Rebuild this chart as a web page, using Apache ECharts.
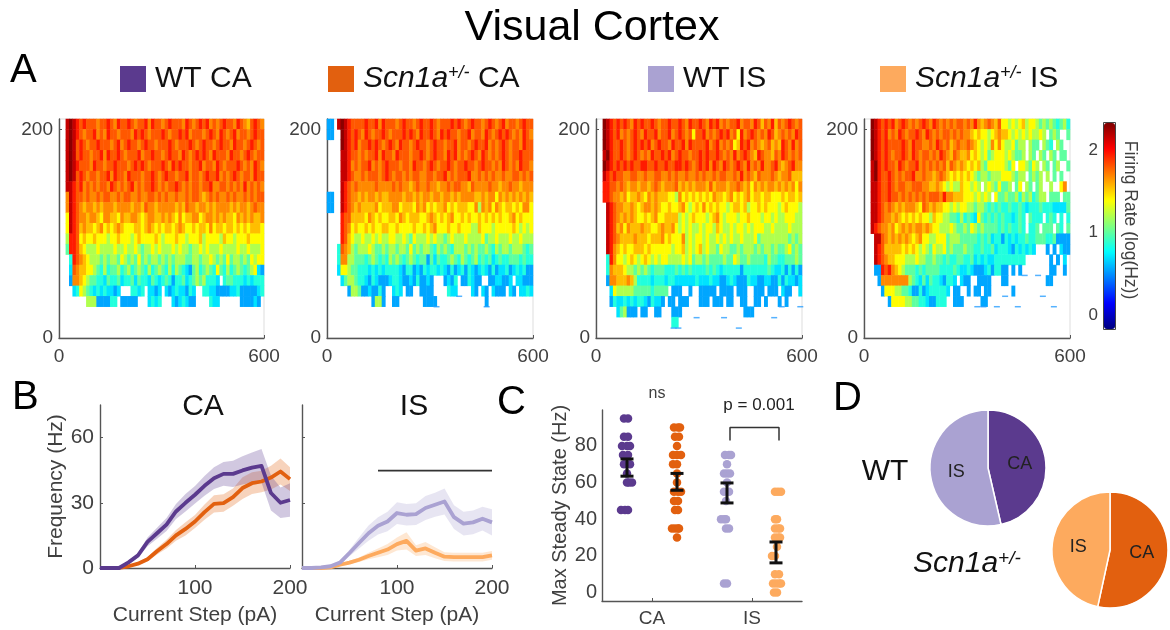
<!DOCTYPE html>
<html><head><meta charset="utf-8">
<style>html,body{margin:0;padding:0;background:#fff}#c{width:1170px;height:630px;filter:blur(0.45px)}</style>
<script src="https://cdn.jsdelivr.net/npm/echarts@6/dist/echarts.min.js"></script>
</head><body><div id="c"></div>
<script>
// --- Panel A: heatmap rows, top row (200 pA) first; one character per 10 ms-wide bin. '.' = no spikes.
const levelValues = {'1':0.55,'2':0.7,'3':0.85,'4':1.0,'5':1.2,'6':1.4,'7':1.55,'8':1.68,'9':1.8,'a':1.95,'b':2.16,'c':2.3};
const heatWtCa = [
"..bcba9a99 9899a98a99 a9899a8a99 89a9998a98 9a9a8989a9 98a9879a98",
"..bcba9899 a898a99899 98a9a98999 a9899a9a89 9989a98a98 9a89989a99",
"..bcb9a989 9a99989a89 a9989a9989 99a98999a9 89a9989a99 8a9989a989",
"..bcb9a998 99a8a99a98 999a899a99 89a998a989 a9a98a9998 a9989a9899",
"..bcba9998 a99899a999 89a9a98999 a98a9a9989 9a8998a989 99a9898a98",
"..bcb9a989 9899a8a998 a999899a98 9a99899a89 989a99a898 9a98998a99",
"..bba9a898 98998a9898 9a89899a98 9899a98989 9899a88998 9898a89898",
"..8ba99898 8989988989 9889889989 8988988989 9878989889 8988989899",
"..8ba98788 7878887888 8788798878 8888787988 7887878888 7878878988",
"..6ba98878 8768877687 7887678877 8787686778 8678878787 7687878778",
"..6ba97877 6786767876 6677678767 6776787667 6776867767 7676767776",
"..5aa96766 7666566766 6567666676 5666766566 6756666576 6566676666",
"..4aa97655 5655556556 5565455656 5556565545 5656555655 5565565556",
"...3a98765 5545455465 4546454554 5454555445 5455654546 4554546566",
"...2987766 5435344534 5345435345 4353543214 5345436435 3454345621",
"...1887654 4332433423 3424332432 3431334234 5453332.34 4333232333",
"....236543 23232212.. .3323.2212 .212322132 ..33221111 2231111123",
"........55 5111133.11 111...2323 ...2123211 ....322... ...111121."];
const heatScnCa = [
"11.bcba999 9a99a8a999 89a9989a99 a98999a9a9 89a9989a98 9a89989a99",
"11..cba9a9 8a9899a989 99a9a98a99 a98a9a9989 9a8998a989 a9a9898a98",
"....cba9a8 99a9a989a9 8a9989a998 9a99899a89 989a99a898 9a98998a99",
"....bba998 9899a8a998 a999899a98 9a998a9a89 89a98a9898 9a9899a999",
"....bba898 99a8989a99 98998a9989 a9899a9899 a9989a9989 8a9898a998",
"....bba988 9899989a98 9989899889 9899a89899 9a88989898 8988998989",
"....ba9898 8888988889 8988789889 8878898998 8798888988 7889887888",
"11..ba9887 8788787788 8878878788 7887887878 8887787886 8787878787",
"11..ba9878 7777867778 8677768786 7677867677 7668587868 7677676886",
"....a99777 7687676677 6876777667 8767678667 6766767676 7667867666",
"....a98676 6767667766 7666676676 7866676676 6655766656 6666765656",
"....a97655 6556565566 5565465556 5655456555 6555564556 5556556555",
"...3987545 5565445455 4554645455 4354543555 4545445435 4554555434",
"...3885544 4345434354 5434543441 4243345435 4345343423 4334443433",
"...2665443 3323232333 3213312132 3323213123 1321232131 2231232311",
"....245543 3213211123 3211213112 1...1213.1 13211..112 2112.22111",
"......1554 1121131..2 32.11..111 1....322.. ..21.21.21 11.21.2232",
".......... ...1551..1 1.......11 11........ ......1... .........."];
const heatWtIs = [
"..cba9a9a9 8a9a99a989 9a99a98a99 a98a9a8989 9a8998a979 8a7989a989",
"..cba9a898 9a98a99a89 9a89a98969 9a8989a9a8 96a89a9898 a9789898a9",
"..cba99a98 9a9a9a89a9 98a99a8a99 99a89a8989 67a9a89878 9787a98a89",
"..bca99a98 9a9898a99a 9a89a99899 a9a99a9898 a89a987a98 8798a98989",
"..cba9a9a9 a99aa99a99 a99aa9a989 a9a8a98a98 9a98a898a8 89a8789a88",
"..ba9a9988 9988988998 8989889889 8988989988 98a8987988 8987889777",
"..aa998987 8878878987 8889787878 8879788878 8987868787 8878787868",
"..aa988786 7787687877 7665867676 7676877678 6767867767 7666767767",
"...ba98877 8767887876 6766786567 6867676656 7767566767 6665676665",
"...ba98787 8766767866 7777565676 6656786566 6566766656 6565566655",
"...ba97868 7778776678 7786565655 6566576556 5665656665 5655556555",
"...ba98777 7877767778 6766685656 6565565656 5565556455 5555554545",
"...ba87676 6777676666 6656675656 7565546554 4545554545 5454456454",
"...3a86656 7656765656 6555565645 5454444544 6544544443 5443344454",
"...3877765 5454543444 3334343433 3343432333 3313333333 4322313131",
"...1887778 7533332333 2332222223 2223221123 2111322112 2113132212",
"....265555 5444443444 4.111..1.. 11111.1111 .111..111. 111.211..2",
"....132232 3233213221 .11.111... 111.111.11 ..11..11.1 ...1.1....",
"......2451 11.11..11. ..111..... .......... ...111.... ..........",
".......... .......... ..33...... .......... .......... .........."];
const heatScnIs = [
"..cba9a9a8 9a98989a98 a989898998 98a8789879 6656567566 5454543453",
"..cba9a898 a9899a98a9 8989989898 8767665678 7765656565 565.454..4",
"..cba9a999 9a98a99889 8a98978988 9876565868 6556455.54 4.543.54..",
"..cba9a989 9a98a98998 98a9879877 8676564566 6565445.54 .54.54.44.",
"..bca9a998 a9899a8989 8989798787 6767546666 6546.66546 5.54.45..4",
"..bca99a98 9899a88988 7898767676 7654554555 6665455.45 45.5.4.4..",
"..bba99a98 9988999887 7876565576 6565.56546 445.46.54. 45..5..68.",
"..bba99a99 8989898989 998a887776 6656565.64 4544535453 455.444.44",
"..bba98987 8788876987 8776656566 5545543434 3343343233 3433322224",
"..bba98878 7676767665 7665544353 4326434343 4332343.43 33.343.3.3",
"..ba988786 7878788787 6655565445 4654544443 4343343.33 4.444.43.4",
"...bb98787 8787678665 5666455544 4443434233 1323233433 4443341111",
"...ba97777 7676765654 6556454445 4433433423 3321323232 ...1.1.211",
"...ba98776 6655565544 5443433443 3423232233 3333333... ....1.1.2.",
"...11a9a87 6544434344 4433334322 3211123133 11.1.1.... ....11..1.",
"....188888 8885432424 3321332.21 1..1111... 11........ ...11.....",
".....16665 5443113123 33332.11.. 1.11.11... ...1...... ..........",
".......166 6655443321 1333..111. ....11.... .......... .........."];
const dashScnCa = [[319,30],[465,30],[385,40]];
const dashWtIs = [[226,9.5],[240,9.5],[416,9.5],[293,19.5],[373,19.5],[519,19.5],[541,30],[595,30]];
const dashScnIs = [[330,30],[348,30],[387,30],[448,30],[553,30],[411,40],[521,40],[468,60],[507,60]];
const heatTicksX = [0,600], heatTicksY = [0,200], colorTicks = [0,1,2];

// --- Panel B
const stepsPa = [0,10,20,30,40,50,60,70,80,90,100,110,120,130,140,150,160,170,180,190,200];
const meanWtCa  = [0,0,0,2.6,5.8,12,16,20,26,30,33.7,37.8,41.3,43.3,43.3,44.9,46.2,47,34.5,30,31.3];
const semWtCa   = [0,0,0,0.6,1,2,2.5,3,3.5,4,4,4.5,5,5.5,6,6.5,7,7.7,8,7,7.7];
const meanScnCa = [0,0,0,0.8,2,4,7.7,11,15,18,21.4,25.7,29.5,29.9,32.6,36.8,39,39.8,41.6,44.4,40.9];
const semScnCa  = [0,0,0,0.3,0.6,1,1.5,2,2.5,3,3,3.5,4,4,4,5,5,5,5.5,6,5.5];
const meanWtIs  = [0,0,0.3,0.8,2.5,6.9,11.5,16,19.4,21.4,25.3,24.5,24.8,27.6,29.1,30.6,23.4,20.4,21,22.7,21];
const semWtIs   = [0,0,0.1,0.4,1,1.5,2.5,3.5,4,4.5,5,5,5,5.5,5.5,6,5.5,5.5,5.5,5.5,6];
const meanScnIs = [0,0,0,0.3,1.5,2.5,3.8,5.5,7,8.5,11,12.5,8,9,7,5.2,5,5,5,5,5.8];
const semScnIs  = [0,0,0,0.2,0.5,0.8,1,1.5,2,2.5,3,4,2.5,3,2.5,2,2,2,2,2,2];
const sigBarX = [80,200], sigBarY = [44.8,44.8];
const freqTicks = [0,30,60], stepTicks = [100,200];

// --- Panel C
const dotsWtCa = [[.72,95],[.76,95],[.72,85],[.76,85],[.70,80],[.75,80],[.78,80],[.71,75],[.76,75],[.72,70],[.78,70],[.75,65],[.75,60],[.80,60],[.77,60],[.69,45],[.73,45],[.76,45]];
const dotsScnCa = [[1.22,90],[1.26,90],[1.28,90],[1.23,85],[1.27,85],[1.25,80],[1.21,75],[1.25,75],[1.29,75],[1.21,70],[1.25,70],[1.25,65],[1.25,60],[1.22,55],[1.26,55],[1.29,55],[1.22,50],[1.26,50],[1.23,45],[1.26,45],[1.20,35],[1.23,35],[1.26,35],[1.27,35],[1.25,30]];
const dotsWtIs = [[1.73,75],[1.77,75],[1.79,75],[1.75,70],[1.72,65],[1.75,65],[1.78,65],[1.75,60],[1.72,55],[1.77,55],[1.74,50],[1.69,40],[1.72,40],[1.74,40],[1.74,35],[1.77,35],[1.72,5],[1.75,5]];
const dotsScnIs = [[2.23,55],[2.26,55],[2.29,55],[2.23,40],[2.25,40],[2.23,35],[2.26,35],[2.28,35],[2.23,30],[2.26,30],[2.28,30],[2.25,25],[2.20,20],[2.23,20],[2.23,10],[2.27,10],[2.21,5],[2.24,5],[2.27,5],[2.29,5],[2.22,0],[2.25,0]];
const errorBars = [[.75,63.5,72.9],[1.25,55.8,65],[1.75,48.9,59.8],[2.24,16.2,27.6]];
const bracketX = [1.78,1.78,2.27,2.27], bracketY = [83,90,90,83];
const maxTicks = [0,20,40,60,80], groupTicks = [1,2], groupNames = {1:'CA',2:'IS'};

// --- Panel D (% of cells)
const pieWt = [46.4,53.6], pieScn = [53.4,46.6], pieNames = ['CA','IS'];

const C = {wtCa:'#5b3a8e', scnCa:'#e2600f', wtIs:'#aaa2d2', scnIs:'#fdaa5e', axis:'#555', txt:'#404040'};
const FF = '"Liberation Sans", Arial, sans-serif';

const grid=[], xAxis=[], yAxis=[], series=[];

// ---- heatmaps
const xCats = Array.from({length:60},(_,i)=>String(i*10));
const yCats = Array.from({length:21},(_,i)=>String(i*10));
function heatPanel(left,right,rows,dashes){
  const g = grid.length;
  grid.push({left,top:119,width:right-left,height:219,show:true,borderColor:'#ddd',borderWidth:1,backgroundColor:'transparent'});
  const xc = xAxis.length, yc = yAxis.length;
  xAxis.push({gridIndex:g,type:'category',data:xCats,show:false});
  yAxis.push({gridIndex:g,type:'category',data:yCats,show:false});
  const base = {gridIndex:g,type:'value',splitLine:{show:false},
    axisLine:{show:true,onZero:false,lineStyle:{color:C.axis,width:1.4}},
    axisTick:{show:true,inside:true,length:3,lineStyle:{color:C.axis}},
    axisLabel:{color:C.txt,fontSize:19,fontFamily:FF,margin:6,showMinLabel:true,showMaxLabel:true}};
  xAxis.push({...base,position:'bottom',min:0,max:600,
    axisTick:{...base.axisTick,customValues:heatTicksX},axisLabel:{...base.axisLabel,customValues:heatTicksX,margin:9}});
  yAxis.push({...base,position:'left',min:0,max:210,
    axisTick:{...base.axisTick,customValues:heatTicksY},axisLabel:{...base.axisLabel,customValues:heatTicksY}});
  const data=[];
  rows.forEach((r,i)=>{
    const s=r.replace(/ /g,'');
    for(let c=0;c<s.length&&c<60;c++){
      if(s[c]!=='.') data.push([c,20-i,levelValues[s[c]]]);
    }
  });
  series.push({type:'heatmap',xAxisIndex:xc,yAxisIndex:yc,data,progressive:0,silent:true,itemStyle:{borderWidth:0},emphasis:{disabled:true}});
  if(dashes) series.push({type:'scatter',xAxisIndex:xc+1,yAxisIndex:yc+1,data:dashes,symbol:'rect',symbolSize:[6,1.5],silent:true,itemStyle:{color:'#2a9fff'}});
}
heatPanel(59,264,heatWtCa,null);
heatPanel(327,533,heatScnCa,dashScnCa);
heatPanel(596,802,heatWtIs,dashWtIs);
heatPanel(864,1070,heatScnIs,dashScnIs);
const heatSeriesIdx = series.map((s,i)=>s.type==='heatmap'?i:-1).filter(i=>i>=0);

// ---- colorbar axis
{
  const g=grid.length;
  grid.push({left:1104,top:123,width:11,height:206});
  xAxis.push({gridIndex:g,type:'value',show:false,min:0,max:1});
  yAxis.push({gridIndex:g,type:'value',position:'left',min:-0.17,max:2.33,splitLine:{show:false},
    axisLine:{show:false},axisTick:{show:false,customValues:colorTicks},
    axisLabel:{color:C.txt,fontSize:17,fontFamily:FF,margin:6,customValues:colorTicks}});
}

// ---- line panels
function linePanel(left,right,showLabels,pairs){
  const g=grid.length;
  grid.push({left,top:405,width:right-left,height:163});
  const xi=xAxis.length, yi=yAxis.length;
  xAxis.push({gridIndex:g,type:'value',min:0,max:200,splitLine:{show:false},
    axisLine:{show:true,onZero:false,lineStyle:{color:C.axis,width:1.4}},
    axisTick:{show:true,inside:true,length:3,lineStyle:{color:C.axis},customValues:stepTicks},
    axisLabel:{color:C.txt,fontSize:21,fontFamily:FF,margin:10,customValues:stepTicks},
    name:'Current Step (pA)',nameLocation:'middle',nameGap:37,nameTextStyle:{color:C.txt,fontSize:21,fontFamily:FF}});
  yAxis.push({gridIndex:g,type:'value',min:0,max:75,splitLine:{show:false},
    axisLine:{show:true,onZero:false,lineStyle:{color:C.axis,width:1.4}},
    axisTick:{show:true,inside:true,length:3,lineStyle:{color:C.axis},customValues:freqTicks},
    axisLabel:{show:showLabels,color:C.txt,fontSize:21,fontFamily:FF,margin:6,customValues:freqTicks},
    name:showLabels?'Frequency (Hz)':'',nameLocation:'middle',nameGap:30,nameRotate:90,
    nameTextStyle:{color:C.txt,fontSize:21,fontFamily:FF}});
  pairs.forEach(p=>{
    const lo=stepsPa.map((x,i)=>[x,p.mean[i]-p.sem[i]]);
    const hi=stepsPa.map((x,i)=>[x,p.mean[i]+p.sem[i]]);
    series.push({type:'custom',xAxisIndex:xi,yAxisIndex:yi,silent:true,z:1,clip:true,
      data:stepsPa.map((x,i)=>[x,lo[i][1],hi[i][1]]),encode:{x:0,y:[1,2]},
      renderItem(par,api){
        if(par.dataIndex!==0) return null;
        const pts=hi.concat(lo.slice().reverse()).map(d=>api.coord(d));
        return {type:'polygon',shape:{points:pts},style:{fill:p.color,opacity:.28}};
      }});
  });
  pairs.forEach(p=>{
    series.push({type:'line',name:p.name,xAxisIndex:xi,yAxisIndex:yi,data:stepsPa.map((x,i)=>[x,p.mean[i]]),
      symbol:'none',clip:false,lineStyle:{color:p.color,width:3.8,join:'round'},itemStyle:{color:p.color},z:3});
  });
  return [xi,yi];
}
linePanel(100,290,true,[
  {name:'Scn1a+/- CA',mean:meanScnCa,sem:semScnCa,color:C.scnCa},
  {name:'WT CA',mean:meanWtCa,sem:semWtCa,color:C.wtCa}]);
const isAx = linePanel(302,492,false,[
  {name:'Scn1a+/- IS',mean:meanScnIs,sem:semScnIs,color:C.scnIs},
  {name:'WT IS',mean:meanWtIs,sem:semWtIs,color:C.wtIs}]);
series.push({type:'line',xAxisIndex:isAx[0],yAxisIndex:isAx[1],data:sigBarX.map((x,i)=>[x,sigBarY[i]]),symbol:'none',silent:true,lineStyle:{color:'#333',width:1.8},z:4});

// ---- panel C
{
  const g=grid.length;
  grid.push({left:602,top:410,width:200,height:191});
  const xi=xAxis.length, yi=yAxis.length;
  xAxis.push({gridIndex:g,type:'value',min:0.5,max:2.5,splitLine:{show:false},
    axisLine:{show:true,onZero:false,lineStyle:{color:C.axis,width:1.4}},
    axisTick:{show:true,inside:true,length:3,lineStyle:{color:C.axis},customValues:groupTicks},
    axisLabel:{color:C.txt,fontSize:19,fontFamily:FF,margin:8,customValues:groupTicks,formatter:v=>groupNames[v]}});
  yAxis.push({gridIndex:g,type:'value',min:-4.6,max:99.6,splitLine:{show:false},
    axisLine:{show:true,onZero:false,lineStyle:{color:C.axis,width:1.4}},
    axisTick:{show:false,customValues:maxTicks},
    axisLabel:{color:C.txt,fontSize:20,fontFamily:FF,margin:5,customValues:maxTicks},
    name:'Max Steady State (Hz)',nameLocation:'middle',nameGap:30,nameRotate:90,
    nameTextStyle:{color:C.txt,fontSize:20,fontFamily:FF}});
  [[dotsWtCa,C.wtCa],[dotsScnCa,C.scnCa],[dotsWtIs,C.wtIs],[dotsScnIs,C.scnIs]].forEach(([d,c])=>{
    series.push({type:'scatter',xAxisIndex:xi,yAxisIndex:yi,data:d,symbolSize:8.5,clip:false,silent:true,itemStyle:{color:c,opacity:1}});
  });
  series.push({type:'custom',xAxisIndex:xi,yAxisIndex:yi,data:errorBars,silent:true,z:5,clip:false,encode:{x:0,y:[1,2]},
    renderItem(p,api){
      const a=api.coord([api.value(0),api.value(1)]), b=api.coord([api.value(0),api.value(2)]);
      const st={stroke:'#111',lineWidth:3,fill:null};
      return {type:'group',children:[
        {type:'line',shape:{x1:a[0],y1:a[1],x2:b[0],y2:b[1]},style:st},
        {type:'line',shape:{x1:a[0]-6.5,y1:a[1],x2:a[0]+6.5,y2:a[1]},style:st},
        {type:'line',shape:{x1:b[0]-6.5,y1:b[1],x2:b[0]+6.5,y2:b[1]},style:st}]};
    }});
  series.push({type:'line',xAxisIndex:xi,yAxisIndex:yi,data:bracketX.map((x,i)=>[x,bracketY[i]]),symbol:'none',silent:true,lineStyle:{color:'#333',width:1.5},z:4});
}

// ---- panel D
function pie(center,vals,c1,c2){
  series.push({type:'pie',center,radius:[0,58],startAngle:90,clockwise:true,silent:true,animation:false,
    data:pieNames.map((n,i)=>({name:n,value:vals[i],itemStyle:{color:i?c2:c1}})),
    itemStyle:{borderColor:'#fff',borderWidth:1.5},
    label:{show:true,position:'inside',formatter:'{b}',color:'#222',fontSize:18,fontFamily:FF},labelLine:{show:false}});
}
pie([988,468],pieWt,C.wtCa,C.wtIs);
pie([1110,550],pieScn,C.scnCa,C.scnIs);

// ---- legends
const richLegend = {g:{width:4,fontSize:30},i:{fontStyle:'italic',fontSize:30,fontFamily:FF,color:'#111'},
  s:{fontStyle:'italic',fontSize:18,fontFamily:FF,color:'#111',verticalAlign:'top',lineHeight:30},
  n:{fontSize:30,fontFamily:FF,color:'#111'}};
function leg(name,left){
  return {data:[name],left,top:64,padding:0,icon:'rect',itemWidth:26,itemHeight:26,selectedMode:false,
    textStyle:{fontSize:30,fontFamily:FF,color:'#111',rich:richLegend},
    formatter:n=>n.startsWith('Scn')?'{g|}{i|Scn1a}{s|+/-}{n| '+n.slice(9)+'}':'{g|}{n|'+n+'}'};
}

const letter=(t,x,y)=>({type:'text',x,y,silent:true,style:{text:t,fontSize:40,fontFamily:FF,fill:'#000',textAlign:'left',textVerticalAlign:'middle'}});
const center=(t,x,y,fs,fill)=>({type:'text',x,y,silent:true,style:{text:t,fontSize:fs,fontFamily:FF,fill:fill||'#111',textAlign:'center',textVerticalAlign:'middle'}});

const option={
  animation:false,
  textStyle:{fontFamily:FF},
  grid,xAxis,yAxis,series,
  legend:[leg('WT CA',120),leg('Scn1a+/- CA',328),leg('WT IS',648),leg('Scn1a+/- IS',880)],
  visualMap:{type:'continuous',show:true,seriesIndex:heatSeriesIdx,min:-0.17,max:2.33,left:1104,top:123,itemWidth:11,itemHeight:206,padding:0,
    calculable:false,hoverLink:false,text:null,showLabel:false,
    inRange:{color:['#00007f','#0000ff','#007fff','#00ffff','#7fff7f','#ffff00','#ff7f00','#ff0000','#7f0000']}},
  graphic:[
    center('Visual Cortex',592,28,43,'#000'),
    letter('A',10,71),letter('B',12,398),letter('C',497,403),letter('D',833,399),
    center('CA',203,407,30),center('IS',414,407,30),
    center('ns',657,394,16,C.txt),center('p = 0.001',759,405,17,'#222'),
    center('WT',885,472,30,'#111'),
    {type:'text',x:913,y:564,silent:true,style:{
      text:'{i|Scn1a}{s|+/-}',textVerticalAlign:'middle',
      rich:{i:{fontStyle:'italic',fontSize:30,fontFamily:FF,fill:'#111'},
        s:{fontStyle:'italic',fontSize:19,fontFamily:FF,fill:'#111',verticalAlign:'top',lineHeight:30}}}},
    {type:'text',x:1130,y:220,rotation:-Math.PI/2,silent:true,style:{text:'Firing Rate (log(Hz))',fontSize:17.5,fontFamily:FF,fill:C.txt,textAlign:'center',textVerticalAlign:'middle'}},
    {type:'rect',shape:{x:1103.5,y:122.5,width:12,height:207},silent:true,style:{fill:null,stroke:'#444',lineWidth:1},z:10}
  ]
};
echarts.init(document.getElementById('c'),null,{renderer:'canvas'}).setOption(option);
</script></body></html>
